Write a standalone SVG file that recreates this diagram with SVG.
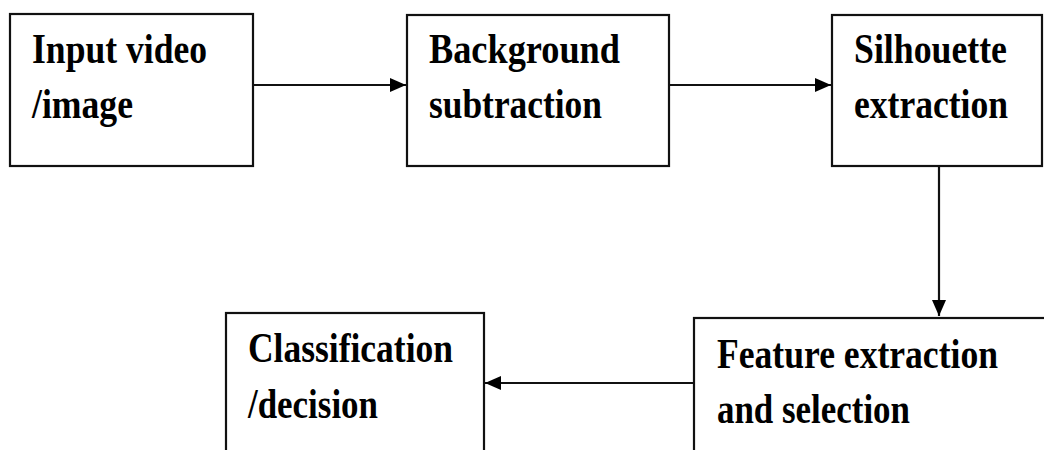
<svg xmlns="http://www.w3.org/2000/svg" width="1044" height="450" viewBox="0 0 1044 450">
<style>
.box{fill:#fff;stroke:#111;stroke-width:2.2}
.lbl{font-family:"Liberation Serif","Times New Roman",serif;font-weight:bold;font-size:42px;fill:#000}
.conn{stroke:#111;stroke-width:2.2;fill:none}
</style>
<defs>
<marker id="ah" viewBox="0 0 16 14" refX="16" refY="7" markerWidth="16" markerHeight="14" markerUnits="userSpaceOnUse" orient="auto">
<path d="M0,0 L16,7 L0,14 Z" fill="#000"/>
</marker>
</defs>
<rect width="1044" height="450" fill="#fff"/>
<g id="connectors">
<line class="conn" x1="253" y1="85" x2="406" y2="85" marker-end="url(#ah)"/>
<line class="conn" x1="669" y1="85" x2="831" y2="85" marker-end="url(#ah)"/>
<line class="conn" x1="939" y1="166" x2="939" y2="316" marker-end="url(#ah)"/>
<line class="conn" x1="694" y1="383" x2="485" y2="383" marker-end="url(#ah)"/>
</g>
<g id="n1">
<rect class="box" x="10" y="14" width="243" height="152"/>
<text class="lbl" x="32" y="63" textLength="175" lengthAdjust="spacingAndGlyphs">Input video</text>
<text class="lbl" x="32" y="118" textLength="101" lengthAdjust="spacingAndGlyphs">/image</text>
</g>
<g id="n2">
<rect class="box" x="407" y="15" width="262" height="151"/>
<text class="lbl" x="429" y="63" textLength="191" lengthAdjust="spacingAndGlyphs">Background</text>
<text class="lbl" x="429" y="118" textLength="173" lengthAdjust="spacingAndGlyphs">subtraction</text>
</g>
<g id="n3">
<rect class="box" x="832" y="15" width="210" height="151"/>
<text class="lbl" x="854" y="63" textLength="153" lengthAdjust="spacingAndGlyphs">Silhouette</text>
<text class="lbl" x="854" y="118" textLength="154" lengthAdjust="spacingAndGlyphs">extraction</text>
</g>
<g id="n4">
<rect class="box" x="694" y="318" width="370" height="150"/>
<text class="lbl" x="717" y="368" textLength="281" lengthAdjust="spacingAndGlyphs">Feature extraction</text>
<text class="lbl" x="717" y="423" textLength="193" lengthAdjust="spacingAndGlyphs">and selection</text>
</g>
<g id="n5">
<rect class="box" x="226" y="313" width="258" height="150"/>
<text class="lbl" x="248" y="362" textLength="205" lengthAdjust="spacingAndGlyphs">Classification</text>
<text class="lbl" x="248" y="418" textLength="130" lengthAdjust="spacingAndGlyphs">/decision</text>
</g>
</svg>
